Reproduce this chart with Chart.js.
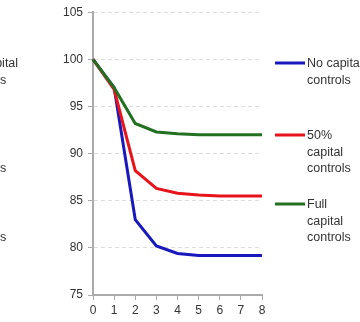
<!DOCTYPE html>
<html>
<head>
<meta charset="utf-8">
<script src="https://cdn.jsdelivr.net/npm/chart.js@4"></script>
<style>
  html, body { margin: 0; padding: 0; background: #fff; }
  #wrap { width: 360px; height: 322px; position: relative; }
</style>
</head>
<body>
<div id="wrap"><canvas id="chart" width="360" height="322"></canvas></div>
<script>
const periods = ['0', '1', '2', '3', '4', '5', '6', '7', '8'];
const seriesNames = ['No capital controls', '50% capital controls', 'Full capital controls'];
const noControls = [100, 97, 83, 80.2, 79.4, 79.2, 79.2, 79.2, 79.2];
const halfControls = [100, 96.8, 88.2, 86.3, 85.8, 85.6, 85.5, 85.5, 85.5];
const fullControls = [100, 97, 93.2, 92.3, 92.1, 92.0, 92.0, 92.0, 92.0];
const yTicks = [75, 80, 85, 90, 95, 100, 105];

// legend text wrapped the same way as the picture
const legendLines = [['No capital', 'controls'], ['50%', 'capital', 'controls'], ['Full', 'capital', 'controls']];
const colors = ['#1818bc', '#e8141c', '#237023'];

const legendPlugin = {
    id: 'sideLegend',
    afterDraw(chart, args, opts) {
        const ctx = chart.ctx;
        ctx.save();
        ctx.font = '12.5px "Liberation Sans", Arial, sans-serif';
        ctx.fillStyle = '#333';
        ctx.textBaseline = 'middle';
        chart.data.datasets.forEach((ds, i) => {
            const y = opts.rows[i];
            ctx.strokeStyle = ds.borderColor;
            ctx.lineWidth = 3;
            ctx.beginPath();
            ctx.moveTo(opts.lineX0, y);
            ctx.lineTo(opts.lineX1, y);
            ctx.stroke();
            legendLines[i].forEach((t, j) => {
                ctx.fillText(t, opts.textX, y + 1 + j * opts.lineHeight);
                // clipped leftovers of the neighbouring legend on the left edge
                ctx.fillText(t, opts.ghostX, y + 1 + j * opts.lineHeight);
            });
        });
        ctx.restore();
    }
};

const ctx = document.getElementById('chart').getContext('2d');
new Chart(ctx, {
    type: 'line',
    data: {
        labels: periods,
        datasets: [
            { label: seriesNames[0], data: noControls, borderColor: colors[0], order: 3 },
            { label: seriesNames[1], data: halfControls, borderColor: colors[1], order: 2 },
            { label: seriesNames[2], data: fullControls, borderColor: colors[2], order: 1 }
        ].map(d => Object.assign(d, { borderWidth: 3, pointRadius: 0, tension: 0, fill: false }))
    },
    options: {
        responsive: false,
        animation: false,
        layout: { padding: { left: 0, right: 98, top: 10, bottom: 0 } },
        plugins: {
            legend: { display: false },
            tooltip: { enabled: false },
            sideLegend: { rows: [63, 135, 204], lineX0: 275, lineX1: 305, textX: 307, ghostX: -37.5, lineHeight: 16.5 }
        },
        scales: {
            x: {
                offset: false,
                grid: { drawOnChartArea: false, drawTicks: true, tickLength: 5, tickColor: '#aaa' },
                border: { color: '#aaa', width: 2 },
                ticks: { color: '#333', padding: 3, font: { size: 12, family: '"Liberation Sans", Arial, sans-serif' }, maxRotation: 0 },
                afterFit(scale) { scale.height = 27; }
            },
            y: {
                min: 75,
                max: 105,
                afterBuildTicks(scale) { scale.ticks = yTicks.map(v => ({ value: v })); },
                grid: { color: '#ddd', tickColor: '#aaa', tickLength: 5, tickBorderDash: [] },
                border: { color: '#aaa', width: 2, dash: [4, 3] },
                ticks: { color: '#333', padding: 5, font: { size: 12, family: '"Liberation Sans", Arial, sans-serif' } },
                afterFit(scale) { scale.width = 93; }
            }
        }
    },
    plugins: [legendPlugin]
});
</script>
</body>
</html>
